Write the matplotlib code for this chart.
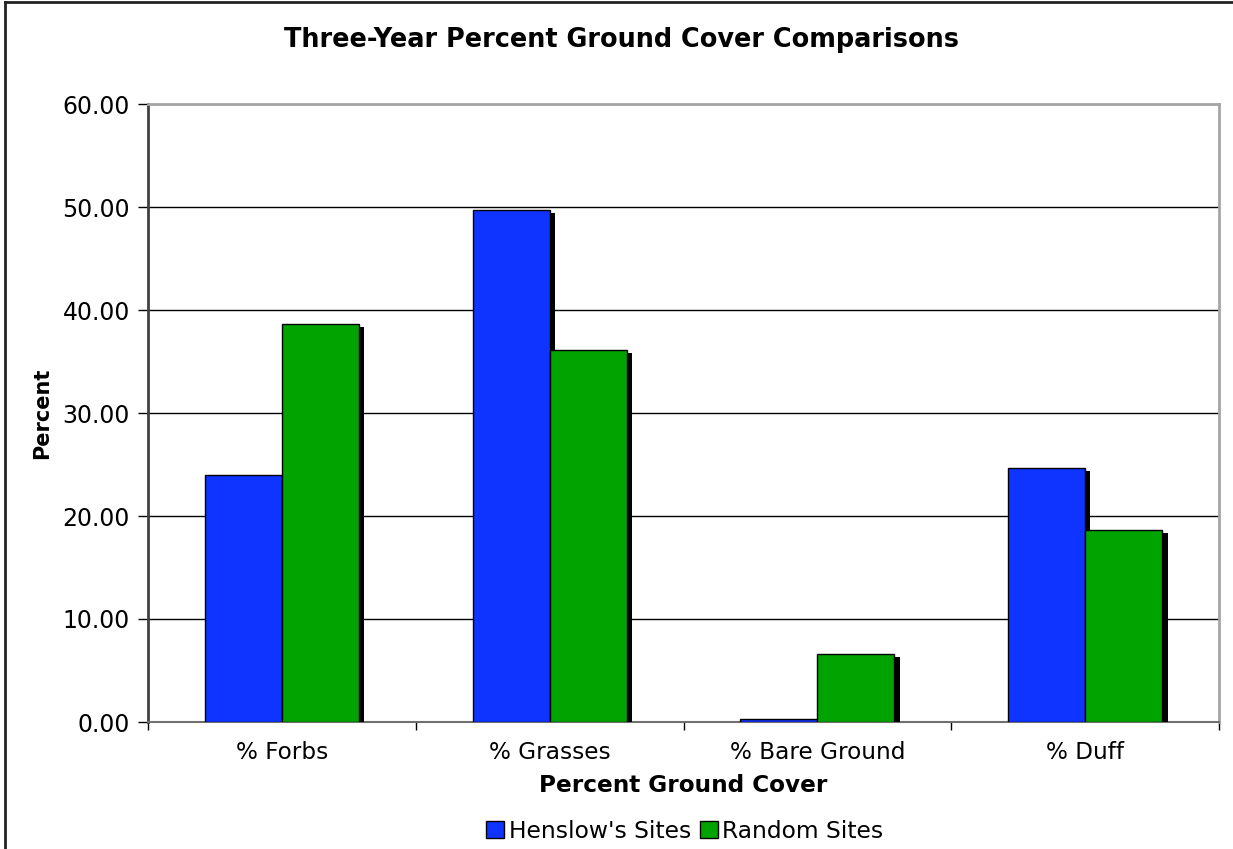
import numpy as np
import matplotlib
matplotlib.use("Agg")
import matplotlib.pyplot as plt
from matplotlib.lines import Line2D
from matplotlib.patches import Patch
import matplotlib.patheffects as pe

# --- data -------------------------------------------------------------------
categories = ["% Forbs", "% Grasses", "% Bare Ground", "% Duff"]
henslow = [23.98, 49.72, 0.28, 24.62]
random_sites = [38.62, 36.08, 6.58, 18.64]
series_names = ["Henslow's Sites", "Random Sites"]
yticks = [0, 10, 20, 30, 40, 50, 60]

BLUE = "#1034ff"
GREEN = "#00a300"

W, H = 1233, 849
fig = plt.figure(figsize=(W / 100, H / 100), dpi=100)
ax = fig.add_axes([148 / W, 1 - 722 / H, (1219 - 148) / W, (722 - 104) / H])

x = np.arange(len(categories))
bw = 0.288
shadow = [pe.SimplePatchShadow(offset=(3.8, -2.2), shadow_rgbFace="black", alpha=1.0),
          pe.Normal()]
b1 = ax.bar(x - bw / 2, henslow, bw, color=BLUE, edgecolor="black", linewidth=1.0, zorder=3)
b2 = ax.bar(x + bw / 2, random_sites, bw, color=GREEN, edgecolor="black", linewidth=1.0, zorder=3)
for r in list(b1) + list(b2):
    r.set_path_effects(shadow)

ax.set_xlim(-0.5, len(categories) - 0.5)
ax.set_ylim(0, 60)
ax.set_yticks(yticks)
ax.set_yticklabels([f"{v:.2f}" for v in yticks])
ax.yaxis.grid(True, color="black", linewidth=1.0)
ax.set_axisbelow(True)

ax.set_xticks(x)
ax.set_xticklabels(categories)
ax.set_xticks(np.arange(-0.5, len(categories), 1.0), minor=True)
ax.tick_params(axis="x", which="major", length=0, pad=14, labelsize=16.7)
ax.tick_params(axis="x", which="minor", length=6, width=1, direction="out", color="black")
ax.tick_params(axis="y", length=7, width=1, direction="out", labelsize=17, pad=6,
               color="black")

ax.spines["top"].set_color("#a6a6a6")
ax.spines["top"].set_linewidth(2)
ax.spines["right"].set_color("#a6a6a6")
ax.spines["right"].set_linewidth(2)
ax.spines["left"].set_color("#404040")
ax.spines["left"].set_linewidth(2)
ax.spines["bottom"].set_color("#707070")
ax.spines["bottom"].set_linewidth(1.5)

ax.set_xlabel("Percent Ground Cover", fontsize=16.7, fontweight="bold")
ax.set_ylabel("Percent", fontsize=15, fontweight="bold")
ax.xaxis.set_label_coords(0.5, -(785 - 722) / 618, transform=ax.transAxes)
ax.xaxis.label.set_va("center")
ax.yaxis.set_label_coords((42 - 148) / 1071, 0.5, transform=ax.transAxes)
ax.yaxis.label.set_va("center")

fig.text(621 / W, 1 - 40 / H, "Three-Year Percent Ground Cover Comparisons",
         ha="center", va="center", fontsize=18.4, fontweight="bold")

fig.legend(handles=[Patch(facecolor=BLUE, edgecolor="black", label=series_names[0]),
                    Patch(facecolor=GREEN, edgecolor="black", label=series_names[1])],
           loc="center", bbox_to_anchor=(685 / W, 1 - 831 / H), ncol=2, frameon=False,
           fontsize=16.8, handlelength=0.75, handleheight=0.75, handletextpad=0.2,
           columnspacing=0.4)

# chart-area frame (left and top edges)
fig.add_artist(Line2D([5 / W, 5 / W], [0, 1 - 2 / H], color="#222222", lw=2,
                      transform=fig.transFigure))
fig.add_artist(Line2D([5 / W, 1], [1 - 2 / H, 1 - 2 / H], color="#222222", lw=2,
                      transform=fig.transFigure))

fig.savefig("out.png", dpi=100)
